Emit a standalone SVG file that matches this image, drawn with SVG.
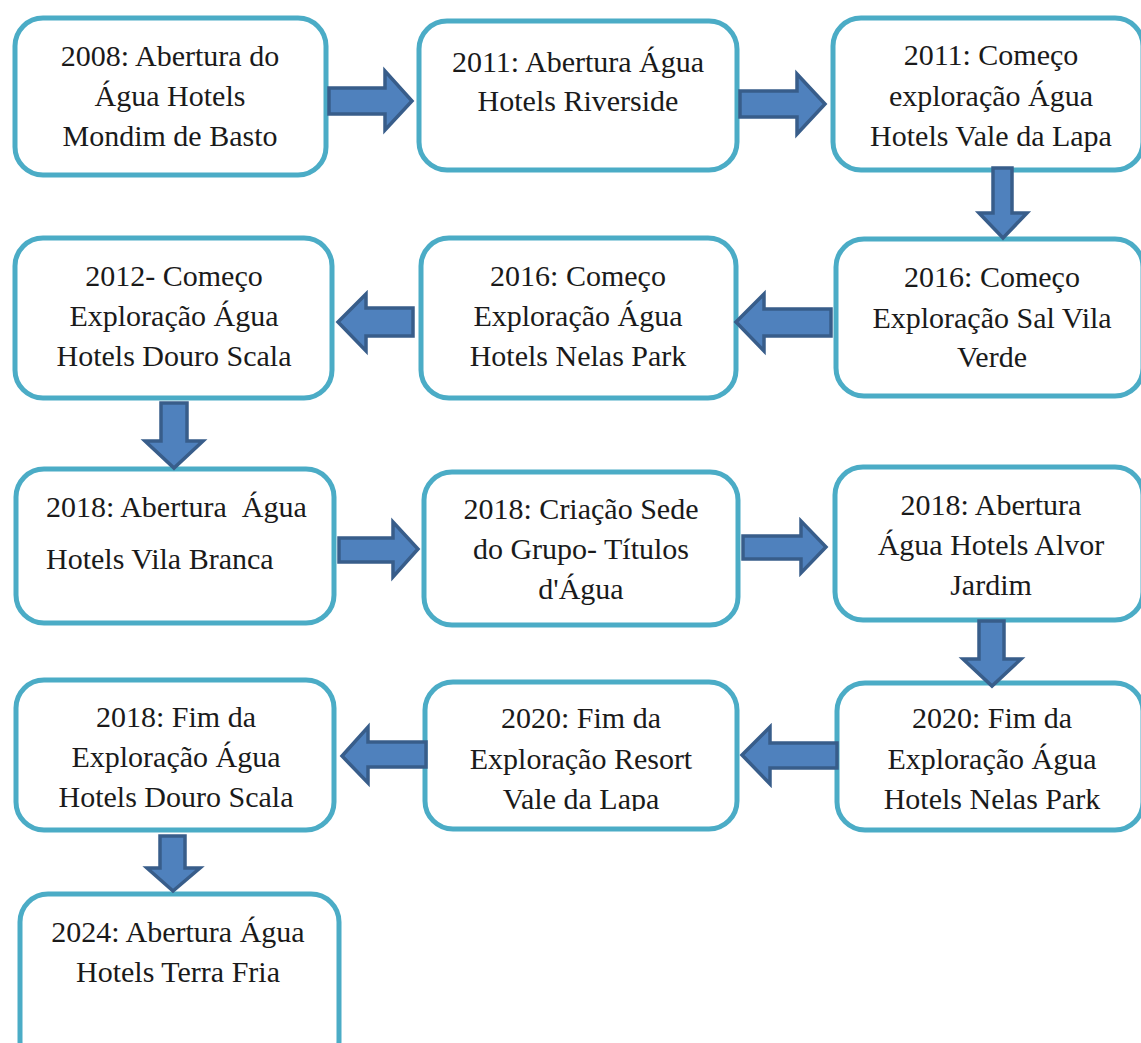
<svg xmlns="http://www.w3.org/2000/svg" width="1141" height="1043" viewBox="0 0 1141 1043">
<style>
.box{fill:#ffffff;stroke:#4BACC6;stroke-width:5}
.arr{fill:#4F81BD;stroke:#385D8A;stroke-width:3.5;stroke-linejoin:miter}
text{font-family:"Liberation Serif","DejaVu Serif",serif;font-size:30px;fill:#1a1a1a;text-anchor:middle}
</style>
<defs>
<clipPath id="c11"><rect x="425" y="682" width="312" height="129"/></clipPath>
</defs>
<rect width="1141" height="1043" fill="#ffffff"/>
<g id="n1"><rect class="box" x="15" y="18" width="311" height="157" rx="28"/>
<text x="170" y="66">2008: Abertura do</text><text x="170" y="106">Água Hotels</text><text x="170" y="146">Mondim de Basto</text></g>
<g id="n2"><rect class="box" x="419" y="21" width="318" height="149" rx="28"/>
<text x="578" y="72">2011: Abertura Água</text><text x="578" y="111">Hotels Riverside</text></g>
<g id="n3"><rect class="box" x="833" y="18" width="310" height="152" rx="28"/>
<text x="991" y="65">2011: Começo</text><text x="991" y="106">exploração Água</text><text x="991" y="146">Hotels Vale da Lapa</text></g>
<g id="n4"><rect class="box" x="836" y="239" width="307" height="157" rx="28"/>
<text x="992" y="287">2016: Começo</text><text x="992" y="328">Exploração Sal Vila</text><text x="992" y="367">Verde</text></g>
<g id="n5"><rect class="box" x="421" y="238" width="315" height="160" rx="28"/>
<text x="578" y="286">2016: Começo</text><text x="578" y="326">Exploração Água</text><text x="578" y="366">Hotels Nelas Park</text></g>
<g id="n6"><rect class="box" x="15" y="238" width="317" height="160" rx="28"/>
<text x="174" y="286">2012- Começo</text><text x="174" y="326">Exploração Água</text><text x="174" y="366">Hotels Douro Scala</text></g>
<g id="n7"><rect class="box" x="16" y="469" width="318" height="154" rx="28"/>
<text x="46" y="517" style="text-anchor:start" xml:space="preserve">2018: Abertura  Água</text><text x="46" y="569" style="text-anchor:start">Hotels Vila Branca</text></g>
<g id="n8"><rect class="box" x="424" y="472" width="314" height="153" rx="28"/>
<text x="581" y="519">2018: Criação Sede</text><text x="581" y="559">do Grupo- Títulos</text><text x="581" y="599">d'Água</text></g>
<g id="n9"><rect class="box" x="835" y="467" width="308" height="153" rx="28"/>
<text x="991" y="515">2018: Abertura</text><text x="991" y="555">Água Hotels Alvor</text><text x="991" y="595">Jardim</text></g>
<g id="n10"><rect class="box" x="837" y="683" width="306" height="147" rx="28"/>
<text x="992" y="728">2020: Fim da</text><text x="992" y="769">Exploração Água</text><text x="992" y="809">Hotels Nelas Park</text></g>
<g id="n11"><rect class="box" x="425" y="682" width="312" height="147" rx="28"/>
<g clip-path="url(#c11)"><text x="581" y="728">2020: Fim da</text><text x="581" y="769">Exploração Resort</text><text x="581" y="809">Vale da Lapa</text></g></g>
<g id="n12"><rect class="box" x="16" y="680" width="318" height="150" rx="28"/>
<text x="176" y="727">2018: Fim da</text><text x="176" y="767">Exploração Água</text><text x="176" y="807">Hotels Douro Scala</text></g>
<g id="n13"><rect class="box" x="20" y="894" width="319" height="175" rx="28"/>
<text x="178" y="942">2024: Abertura Água</text><text x="178" y="982">Hotels Terra Fria</text></g>
<g id="connectors">
<polygon class="arr" points="329,88 385,88 385,71 412,101 385,130 385,114 329,114"/>
<polygon class="arr" points="740,91 797,91 797,74 825,104 797,134 797,117 740,117"/>
<polygon class="arr" points="993,168 1012,168 1012,213 1027,213 1003,238 979,213 993,213"/>
<polygon class="arr" points="831,309 764,309 764,294 736,322 764,351 764,336 831,336"/>
<polygon class="arr" points="413,308 366,308 366,294 338,322 366,351 366,336 413,336"/>
<polygon class="arr" points="161,403 187,403 187,441 203,441 174,468 145,441 161,441"/>
<polygon class="arr" points="339,538 393,538 393,522 418,549 393,577 393,562 339,562"/>
<polygon class="arr" points="743,536 801,536 801,521 826,547 801,573 801,559 743,559"/>
<polygon class="arr" points="979,621 1004,621 1004,659 1021,659 992,686 963,659 979,659"/>
<polygon class="arr" points="837,743 770,743 770,727 742,755 770,784 770,768 837,768"/>
<polygon class="arr" points="426,742 368,742 368,727 342,756 368,783 368,767 426,767"/>
<polygon class="arr" points="160,836 185,836 185,868 200,868 173,891 147,868 160,868"/>
</g>
</svg>
